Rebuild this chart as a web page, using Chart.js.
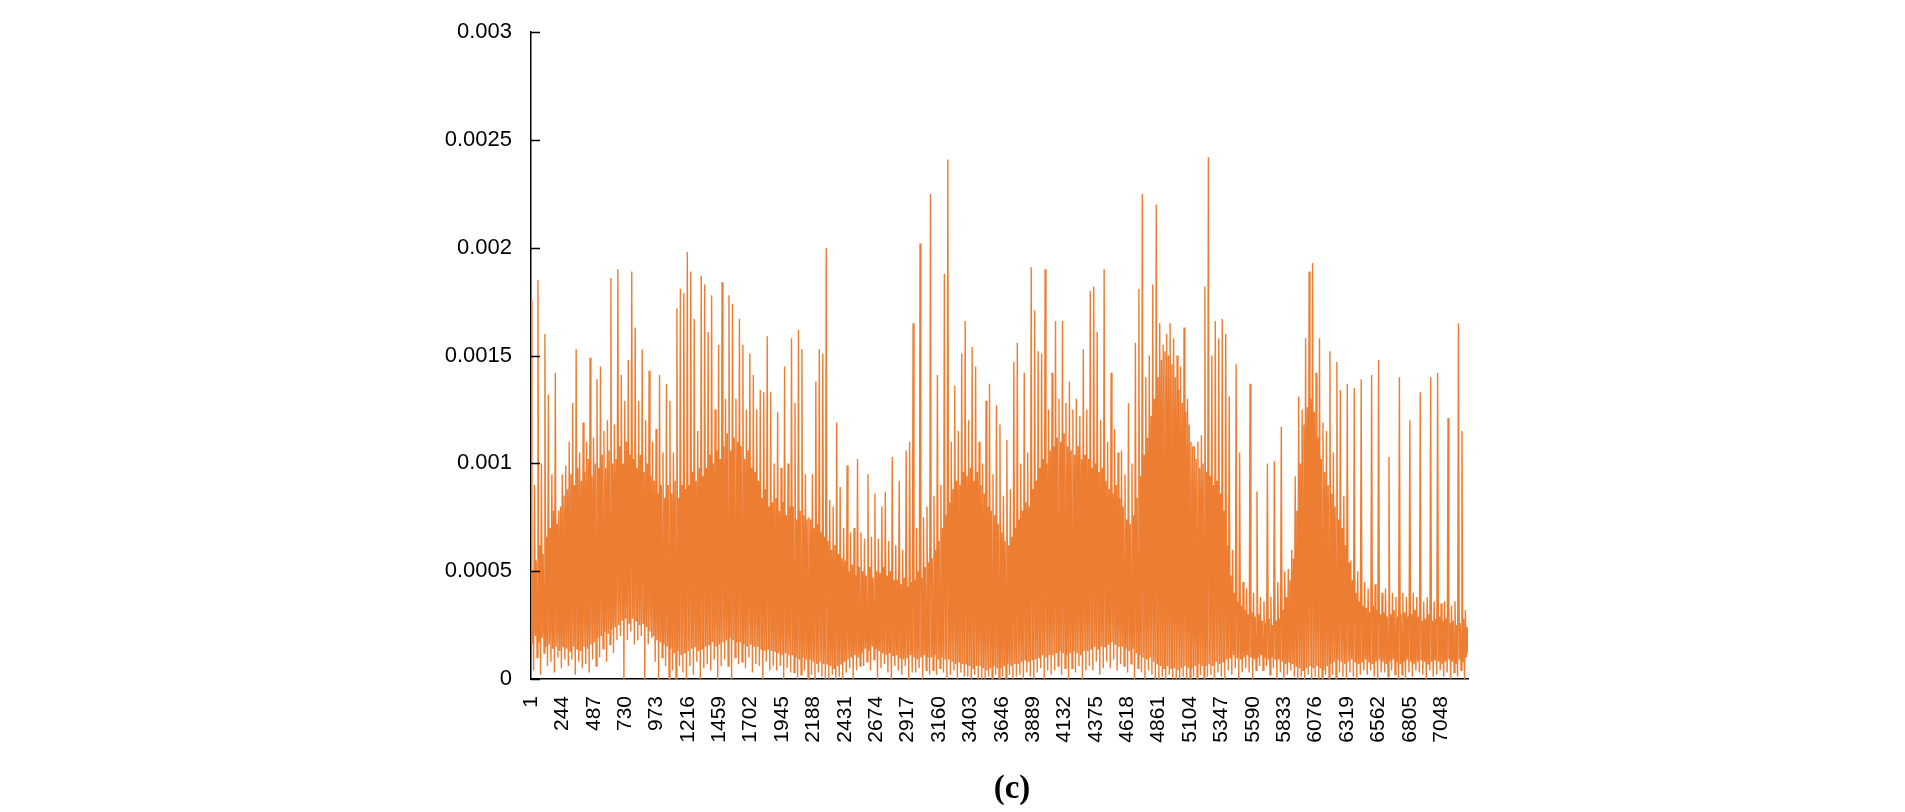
<!DOCTYPE html>
<html>
<head>
<meta charset="utf-8">
<style>
    html, body { margin: 0; padding: 0; background: #fff; }
    .wrap { position: relative; width: 1905px; height: 812px; }
    .caption { position: absolute; left: 912px; top: 771px; width: 200px; text-align: center;
               font: bold 33px "Liberation Serif", "Times New Roman", serif; line-height: 33px; color: #000; }
</style>
</head>
<body>
<div class="wrap">
    <canvas id="seriesChart" width="1905" height="812"></canvas>
    <div class="caption">(c)</div>
</div>

<script src="https://cdn.jsdelivr.net/npm/chart.js@4/dist/chart.umd.min.js"></script>
<script>
/* values, in units of 0.00001, one spike (cycle) per entry */
var peaks = [
    176, 90, 185, 100, 160,  132, 95, 142, 78, 95,  99, 110, 128, 153, 105,  119, 110, 149, 112, 139,  145, 115, 120, 186, 118,
    190, 141, 129, 148, 189,  163, 129, 153, 120, 143,  110, 116, 141, 105, 137,  129, 105, 172, 181, 179,  198, 189, 167, 115, 187,
    183, 161, 178, 125, 155,  184, 130, 178, 174, 130,  167, 155, 125, 151, 141,  125, 134, 133, 159, 133,  100, 124, 98, 145, 100,
    158, 128, 162, 153, 95,  75, 95, 138, 153, 151,  200, 83, 80, 119, 89,  70, 99, 68, 70, 102,  68, 65, 95, 66, 86,
    65, 80, 87, 64, 103,  62, 92, 60, 106, 110,  165, 70, 202, 75, 80,  225, 85, 141, 90, 188,  241, 110, 136, 115, 151,
    166, 120, 154, 145, 110,  100, 129, 137, 95, 127,  118, 85, 111, 88, 147,  156, 100, 142, 105, 191,  171, 152, 151, 190, 125,
    142, 166, 130, 166, 128,  138, 125, 130, 122, 153,  125, 180, 182, 161, 120,  190, 110, 142, 116, 105,  106, 95, 128, 100, 156,
    181, 225, 140, 150, 183,  220, 165, 155, 160, 165,  158, 150, 145, 163, 130,  110, 108, 110, 113, 182,  242, 150, 166, 158, 167,
    160, 131, 60, 146, 105,  45, 42, 137, 40, 87,  38, 36, 100, 38, 101,  45, 117, 50, 51, 60,  94, 131, 125, 158, 189,
    193, 142, 158, 119, 115,  152, 105, 147, 134, 85,  137, 55, 135, 50, 139,  45, 42, 141, 44, 148,  40, 42, 103, 40, 38,
    140, 40, 38, 120, 40,  38, 133, 36, 38, 140,  36, 142, 35, 36, 121,  34, 36, 165, 115, 32
];
/* top of the dense band under each spike */
var bandTop = [
    50, 55, 62, 58, 66,  70, 78, 72, 80, 85,  88, 95, 90, 98, 92,  96, 102, 94, 100, 98,  104, 98, 106, 100, 102,
    108, 100, 110, 104, 102,  98, 104, 96, 100, 94,  92, 86, 90, 84, 90,  86, 92, 84, 90, 88,  90, 96, 92, 98, 94,
    98, 104, 100, 106, 102,  108, 114, 106, 112, 110,  108, 102, 106, 98, 96,  92, 84, 88, 80, 82,  84, 78, 82, 76, 80,
    80, 74, 78, 76, 74,  74, 70, 72, 68, 66,  64, 60, 62, 58, 56,  55, 50, 53, 48, 52,  50, 48, 52, 47, 50,
    49, 52, 48, 50, 46,  46, 44, 47, 43, 45,  46, 50, 47, 52, 54,  56, 60, 64, 70, 76,  82, 88, 92, 90, 96,
    94, 98, 92, 96, 90,  86, 80, 78, 76, 72,  68, 64, 62, 66, 70,  74, 78, 82, 80, 88,  92, 98, 102, 100, 106,
    108, 112, 110, 114, 108,  106, 104, 108, 102, 104,  102, 98, 100, 96, 98,  92, 88, 86, 90, 84,  80, 74, 72, 76, 84,
    94, 104, 112, 122, 130,  140, 148, 152, 150, 146,  140, 134, 128, 124, 118,  108, 102, 98, 100, 96,  94, 90, 92, 86, 78,
    62, 48, 40, 36, 34,  32, 30, 31, 29, 30,  27, 26, 28, 25, 27,  28, 32, 38, 46, 56,  78, 100, 118, 126, 130,
    124, 112, 102, 96, 90,  86, 80, 74, 70, 62,  54, 46, 40, 36, 34,  33, 31, 34, 32, 30,  31, 29, 30, 32, 29,
    30, 31, 29, 30, 32,  29, 27, 28, 30, 27,  28, 29, 27, 28, 26,  27, 25, 26, 28, 24
];
/* bottom of the dense band */
var bandBottom = [
    16, 20, 17, 19, 15,  16, 14, 15, 13, 15,  14, 13, 15, 14, 13,  15, 14, 16, 17, 19,  20, 22, 21, 23, 24,
    25, 27, 28, 26, 28,  27, 25, 26, 24, 22,  20, 18, 17, 16, 15,  14, 12, 13, 11, 12,  13, 14, 15, 13, 14,
    15, 16, 17, 15, 16,  17, 18, 19, 18, 17,  17, 16, 15, 16, 15,  15, 14, 13, 14, 13,  13, 12, 11, 12, 11,
    11, 10, 9, 10, 9,  9, 8, 7, 8, 7,  7, 6, 5, 6, 7,  8, 9, 10, 11, 10,  12, 14, 13, 15, 14,
    13, 12, 11, 12, 11,  11, 10, 9, 10, 11,  10, 9, 10, 11, 10,  10, 11, 9, 10, 9,  9, 8, 7, 8, 7,
    7, 6, 5, 6, 6,  5, 4, 5, 6, 5,  5, 6, 7, 6, 7,  7, 8, 9, 8, 9,  9, 10, 11, 10, 11,
    11, 12, 13, 12, 11,  12, 13, 12, 11, 13,  13, 14, 15, 14, 15,  15, 16, 17, 16, 15,  15, 14, 13, 14, 12,
    11, 10, 9, 10, 8,  7, 6, 5, 6, 5,  5, 4, 5, 6, 5,  5, 6, 7, 6, 6,  7, 6, 8, 7, 8,
    9, 10, 11, 10, 9,  10, 11, 10, 9, 10,  11, 10, 9, 10, 9,  9, 8, 7, 8, 7,  6, 5, 4, 5, 6,
    5, 6, 5, 4, 6,  7, 8, 9, 8, 7,  8, 9, 8, 7, 8,  9, 8, 7, 8, 9,  8, 7, 8, 9, 8,
    7, 8, 9, 8, 7,  8, 9, 8, 7, 8,  9, 8, 7, 8, 9,  8, 7, 9, 8, 10
];
/* deepest dip after each spike */
var lows = [
    4, 10, 2, 12, 6,  8, 3, 10, 5, 9,  6, 9, 2, 8, 5,  7, 3, 9, 6, 10,  14, 8, 16, 12, 18,
    20, 0, 18, 22, 16,  18, 20, 0, 16, 19,  8, 0, 10, 6, 0,  4, 0, 6, 3, 0,  6, 2, 8, 0, 5,
    7, 4, 9, 0, 6,  9, 6, 0, 10, 7,  8, 5, 10, 3, 7,  6, 0, 8, 4, 6,  4, 6, 0, 5, 3,
    3, 0, 2, 4, 0,  2, 0, 3, 1, 0,  0, 2, 0, 1, 0,  3, 5, 0, 4, 6,  6, 8, 4, 9, 0,
    5, 7, 3, 0, 6,  4, 2, 6, 0, 3,  3, 5, 0, 4, 2,  4, 2, 5, 3, 0,  2, 4, 0, 3, 1,
    1, 0, 2, 0, 0,  0, 1, 0, 2, 0,  1, 0, 2, 0, 1,  2, 0, 3, 1, 0,  3, 5, 0, 4, 2,
    4, 6, 2, 5, 0,  5, 3, 6, 0, 4,  6, 4, 8, 2, 5,  8, 5, 9, 4, 7,  6, 3, 7, 0, 5,
    3, 0, 4, 2, 0,  0, 1, 0, 2, 0,  0, 0, 1, 0, 0,  1, 0, 2, 0, 1,  2, 0, 3, 1, 0,
    4, 2, 5, 0, 3,  5, 3, 0, 4, 6,  4, 6, 2, 5, 0,  3, 0, 2, 4, 1,  0, 1, 0, 2, 0,
    1, 0, 0, 2, 0,  2, 0, 3, 1, 0,  3, 1, 0, 2, 4,  2, 4, 1, 0, 3,  3, 1, 4, 2, 0,
    2, 0, 3, 1, 4,  3, 2, 0, 4, 1,  2, 4, 1, 3, 0,  3, 1, 4, 0, 12
];
var hours = 7256;
var xTicks = [1, 244, 487, 730, 973, 1216, 1459, 1702, 1945, 2188, 2431, 2674, 2917, 3160, 3403,
              3646, 3889, 4132, 4375, 4618, 4861, 5104, 5347, 5590, 5833, 6076, 6319, 6562, 6805, 7048];
var yTicks = [0, 0.0005, 0.001, 0.0015, 0.002, 0.0025, 0.003];
var yTickLabels = ['0', '0.0005', '0.001', '0.0015', '0.002', '0.0025', '0.003'];

/* each spike: top, band bottom, band top, dip */
var series = [];
for (var i = 0; i < peaks.length; i++) {
    series.push(peaks[i], bandBottom[i], bandTop[i], lows[i]);
}
var points = series.map(function (v, j) {
    return { x: 1 + j * (hours - 1) / (series.length - 1), y: v / 100000 };
});

/* small inward tick marks on the value axis */
var innerTicks = {
    id: 'innerTicks',
    afterDraw: function (chart) {
        var c = chart.ctx, area = chart.chartArea, ys = chart.scales.y;
        c.save();
        c.strokeStyle = '#000';
        c.lineWidth = 1.5;
        yTicks.forEach(function (v) {
            var py = Math.round(ys.getPixelForValue(v)) + 0.5;
            c.beginPath();
            c.moveTo(area.left, py);
            c.lineTo(area.left + 9, py);
            c.stroke();
        });
        c.restore();
    }
};

Chart.defaults.color = '#000';
Chart.defaults.font.family = '"Liberation Sans", Arial, sans-serif';
Chart.defaults.font.size = 21;

var ctx = document.getElementById('seriesChart');
var myChart = new Chart(ctx, {
    type: 'line',
    data: {
        datasets: [{
            data: points,
            borderColor: '#ED7D31',
            borderWidth: 1.4,
            pointRadius: 0,
            tension: 0,
            fill: false
        }]
    },
    options: {
        responsive: false,
        animation: false,
        events: [],
        layout: { padding: { left: 0, right: 437, top: 22, bottom: 0 } },
        plugins: { legend: { display: false }, tooltip: { enabled: false } },
        scales: {
            x: {
                type: 'linear',
                min: 1,
                max: hours,
                afterBuildTicks: function (scale) {
                    scale.ticks = xTicks.map(function (v) { return { value: v }; });
                },
                afterFit: function (scale) { scale.height = 133; },
                grid: { display: false, drawTicks: false },
                border: { display: true, color: '#000', width: 1.5 },
                ticks: {
                    autoSkip: false,
                    minRotation: 90,
                    maxRotation: 90,
                    padding: 17,
                    callback: function (value) { return String(value); }
                }
            },
            y: {
                min: 0,
                max: 0.003,
                afterBuildTicks: function (scale) {
                    scale.ticks = yTicks.map(function (v) { return { value: v }; });
                },
                afterFit: function (scale) { scale.width = 531; },
                grid: { display: false, drawTicks: false },
                border: { display: true, color: '#000', width: 1.5 },
                ticks: {
                    padding: 19,
                    font: { size: 22 },
                    callback: function (value, index) { return yTickLabels[index]; }
                }
            }
        }
    },
    plugins: [innerTicks]
});
</script>
</body>
</html>
